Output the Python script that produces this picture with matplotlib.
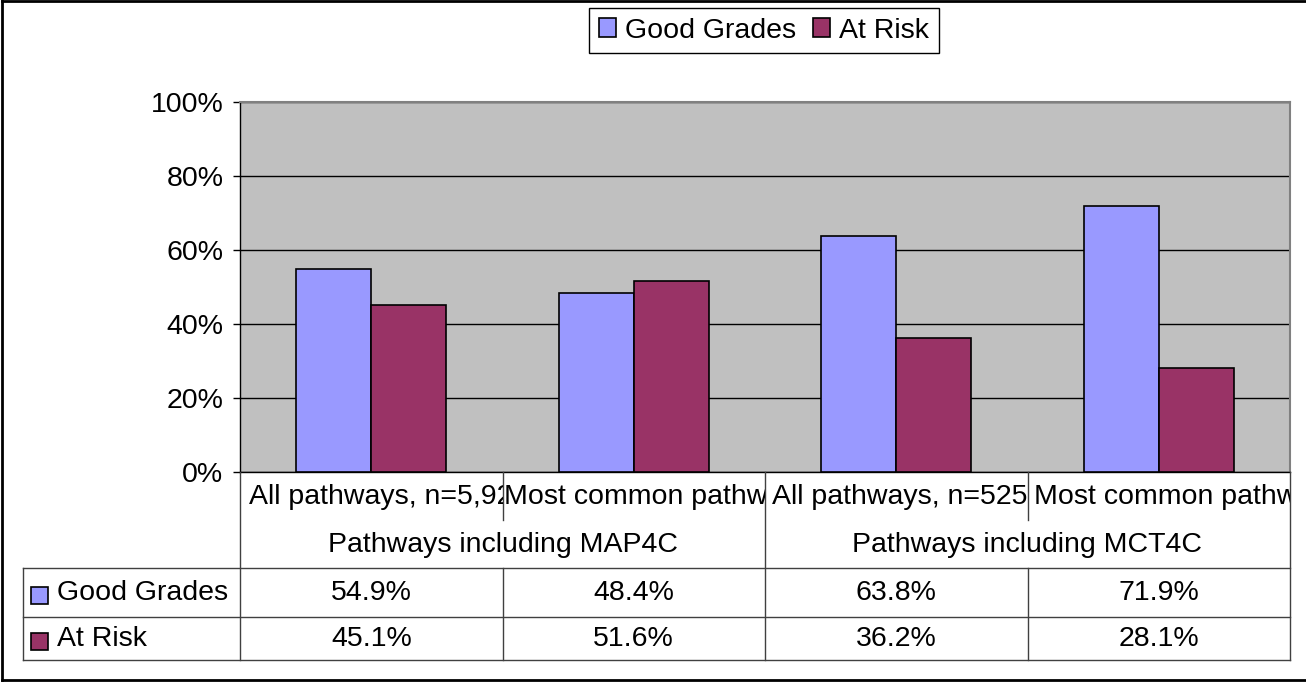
import numpy as np
import matplotlib
matplotlib.use('Agg')
import matplotlib.pyplot as plt
from matplotlib.patches import Rectangle

plt.rcParams['font.family'] = ['Liberation Sans', 'DejaVu Sans']

# data
categories = ['All pathways, n=5,92', 'Most common pathway',
              'All pathways, n=525', 'Most common pathway']
groups = ['Pathways including MAP4C', 'Pathways including MCT4C']
series = ['Good Grades', 'At Risk']
good = [54.9, 48.4, 63.8, 71.9]
risk = [45.1, 51.6, 36.2, 28.1]
colors = ['#9999FF', '#993366']
yticks = [0, 20, 40, 60, 80, 100]

W, H = 1306, 682
FS = 20.5
fig = plt.figure(figsize=(W / 100, H / 100), dpi=100)

# plot area in pixels
L, R, T, B = 240, 1290, 102, 472
ax = fig.add_axes([L / W, 1 - B / H, (R - L) / W, (B - T) / H])
ax.set_facecolor('#C0C0C0')
x = np.arange(len(categories))
w = 1 / 3.5
ax.bar(x - w / 2, np.array(good) / 100, w, color=colors[0], edgecolor='black', lw=1.2, label=series[0], zorder=3)
ax.bar(x + w / 2, np.array(risk) / 100, w, color=colors[1], edgecolor='black', lw=1.2, label=series[1], zorder=3)
ax.set_xlim(-0.5, len(categories) - 0.5)
ax.set_ylim(0, 1)
ax.set_yticks(np.array(yticks) / 100)
ax.set_yticklabels([f'{v}%' for v in yticks], fontsize=FS)
ax.set_xticks([])
ax.yaxis.grid(True, color='black', lw=1)
ax.set_axisbelow(True)
ax.tick_params(axis='y', length=5, width=1, pad=7, direction='out')
for s in ['top', 'right']:
    ax.spines[s].set_color('#808080')
    ax.spines[s].set_linewidth(1.5)
for s in ['left', 'bottom']:
    ax.spines[s].set_color('black')
    ax.spines[s].set_linewidth(1)

ax.legend(loc='center', bbox_to_anchor=(764 / W, 1 - 30.5 / H), bbox_transform=fig.transFigure,
          ncol=2, fontsize=FS, frameon=True, fancybox=False, edgecolor='black', framealpha=1,
          handlelength=0.6, handleheight=0.6, handletextpad=0.3, columnspacing=0.6,
          borderpad=0.35, borderaxespad=0)

# overlay in pixel coordinates for the data table and frame
ov = fig.add_axes([0, 0, 1, 1], zorder=5)
ov.set_xlim(0, W)
ov.set_ylim(H, 0)
ov.axis('off')
ov.patch.set_alpha(0)

lc = '#404040'
# frame (right edge is cut off in the original)
ov.plot([2, 2], [1, 680], color='black', lw=2)
ov.plot([2, W], [1, 1], color='black', lw=2)
ov.plot([2, W], [680, 680], color='black', lw=2)

cw = (R - L) / len(categories)
edges = [L + i * cw for i in range(len(categories) + 1)]
r1, r2, r3, r4, r5 = 472, 520, 568, 617, 660
TL = 23
for yy in [r3, r4, r5]:
    ov.plot([TL, R], [yy, yy], color=lc, lw=1)
ov.plot([TL, TL], [r3, r5], color=lc, lw=1)
for i, xx in enumerate(edges):
    if i % 2 == 0:
        ov.plot([xx, xx], [r1, r5], color=lc, lw=1)
    else:
        ov.plot([xx, xx], [r1, r2], color=lc, lw=1)
        ov.plot([xx, xx], [r3, r5], color=lc, lw=1)

# category labels clipped to their cells
pads = [9, 2, 7, 6]
for i, c in enumerate(categories):
    t = ov.text(edges[i] + pads[i], (r1 + r2) / 2 + 1, c, fontsize=FS, ha='left', va='center', clip_on=True)
    clip = Rectangle((edges[i], r1), cw, r2 - r1, transform=ov.transData)
    t.set_clip_path(clip)

for j, g in enumerate(groups):
    ov.text((edges[2 * j] + edges[2 * j + 2]) / 2, (r2 + r3) / 2 + 1, g, fontsize=FS, ha='center', va='center')

for k, (name, vals) in enumerate(zip(series, [good, risk])):
    ya, yb = [(r3, r4), (r4, r5)][k]
    yc = (ya + yb) / 2 + 1
    ov.add_patch(Rectangle((31, yc - 7), 17, 17, facecolor=colors[k], edgecolor='black', lw=1.2))
    ov.text(57, yc, name, fontsize=FS, ha='left', va='center')
    for i, v in enumerate(vals):
        ov.text(edges[i] + cw / 2, yc, f'{v}%', fontsize=FS, ha='center', va='center')

fig.savefig('out.png', dpi=100)
